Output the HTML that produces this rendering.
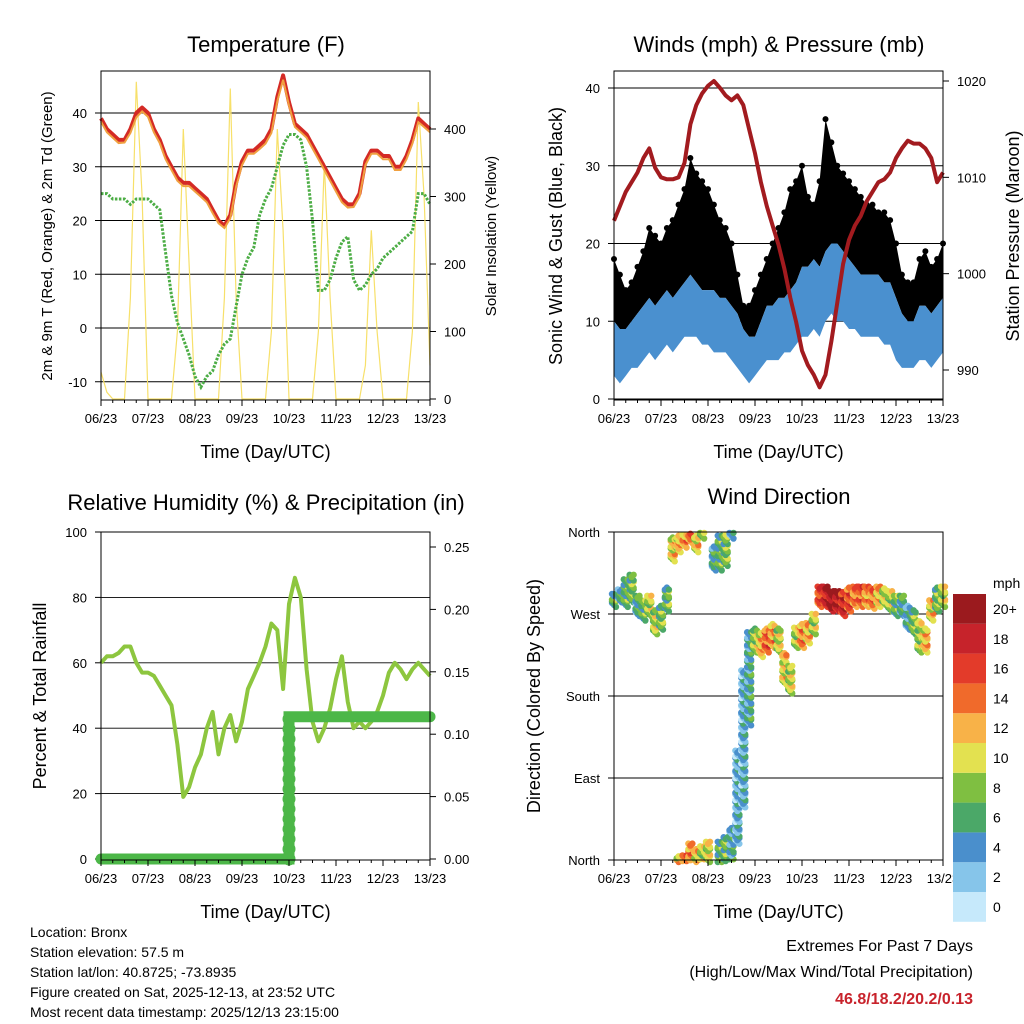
<!DOCTYPE html>
<html><head><meta charset="utf-8">
<style>
html,body{margin:0;padding:0;background:#fff;}
svg{display:block;font-family:"Liberation Sans",Arial,sans-serif;}
</style></head>
<body>
<svg id="c" width="1024" height="1024" viewBox="0 0 1024 1024"></svg>
<script>
// ---- data (3-hour resolution, 57 points from 06/23 00 to 13/23 00) ----
const dayLabels = ["06/23","07/23","08/23","09/23","10/23","11/23","12/23","13/23"];
const temp2m = [39,37,36,35,35,37,40,41,40,37,35,32,30,28,27,27,26,25,24,22,20,19,21,27,31,33,33,34,35,37,43,47,42,38,37,36,34,32,30,28,26,24,23,23,25,31,33,33,32,32,30,30,32,35,39,38,37];
const temp9m = [38.4,36.4,35.4,34.4,34.5,36.3,39.2,40.3,39.3,36.4,34.4,31.4,29.4,27.4,26.4,26.4,25.4,24.4,23.4,21.4,19.5,18.6,20.4,26.3,30.3,32.4,32.4,33.3,34.3,36.3,42.2,46.2,41.4,37.4,36.4,35.4,33.4,31.4,29.4,27.4,25.4,23.4,22.4,22.5,24.4,30.3,32.4,32.4,31.4,31.4,29.4,29.4,31.4,34.3,38.3,37.4,36.4];
const dewpoint = [25,25,24,24,24,23,24,24,24,23,22,14,6,1,-2,-5,-9,-11,-9,-8,-5,-3,-2,4,10,13,15,21,24,26,30,34,36,36,35,30,20,7,7,9,13,16,17,9,7,8,10,11,13,14,15,16,17,18,25,25,23];
const solar = [40,10,0,0,0,150,470,300,0,0,0,0,0,100,400,200,0,0,0,0,0,150,460,150,0,0,0,0,0,100,400,250,0,0,0,0,0,100,350,150,0,0,0,0,0,50,250,100,0,0,0,0,0,100,440,300,50];
const pressure = [1005.5,1007,1008.5,1009.5,1010.5,1012,1013,1011,1010,1009.8,1009.8,1010,1011.5,1015.5,1017.5,1018.7,1019.5,1020,1019.3,1018.5,1018,1018.5,1017.5,1015,1012.5,1009.5,1007,1005,1003,1000.5,997.5,995,992,990.5,989.5,988.2,989.5,993,997,1001,1003.5,1005,1006,1007.5,1008.5,1009.5,1009.8,1010.5,1012,1013,1013.8,1013.5,1013.5,1013,1012,1009.5,1010.5];
const windLo = [3,2,3,4,4,5,6,5,6,7,6,7,8,8,8,7,7,6,6,6,5,4,3,2,3,4,5,5,5,6,6,7,8,8,9,8,10,11,10,10,9,9,8,8,8,8,7,7,5,4,4,4,5,5,4,5,6];
const windHi = [10,9,9,10,11,12,13,12,13,14,13,14,15,16,15,14,14,14,13,13,12,11,9,8,8,10,12,12,13,13,14,15,17,17,18,17,19,20,20,19,18,17,16,16,16,16,15,15,13,11,10,10,12,12,11,12,13];
const gustHi = [18,16,14,15,17,19,22,21,20,22,23,25,27,31,29,28,27,25,23,22,20,16,12,12,14,16,18,20,22,24,27,28,30,26,25,28,36,33,30,29,28,27,26,25,25,24,24,23,20,16,15,15,18,19,17,18,20];
const rh = [60,62,62,63,65,65,60,57,57,56,53,50,47,35,19,22,28,32,40,45,32,40,44,36,42,52,56,60,65,72,70,52,78,86,80,58,42,36,40,46,55,62,48,40,42,40,42,45,50,57,60,58,55,58,60,58,56];
const precip = [0,0,0,0,0,0,0,0,0,0,0,0,0,0,0,0,0,0,0,0,0,0,0,0,0,0,0,0,0,0,0,0,0.114,0.114,0.114,0.114,0.114,0.114,0.114,0.114,0.114,0.114,0.114,0.114,0.114,0.114,0.114,0.114,0.114,0.114,0.114,0.114,0.114,0.114,0.114,0.114,0.114];
const dirLo = [280,285,280,285,270,265,270,250,255,275,330,340,345,350,340,355,360,320,320,325,355,20,60,150,230,225,230,235,230,195,185,235,235,240,250,280,280,275,275,270,275,280,280,280,278,280,282,275,270,270,255,250,230,230,265,275,280];
const dirHi = [295,300,310,315,290,285,290,275,280,300,355,365,368,380,375,375,380,345,380,385,395,120,210,250,255,250,255,260,255,230,215,255,260,260,270,300,300,295,295,295,300,300,300,300,298,302,300,295,290,292,280,275,265,255,285,300,300];
const dirSpeed = [6,5,6,7,5,6,8,9,7,6,10,11,12,13,10,8,9,5,6,7,4,3,3,4,8,11,14,12,9,10,9,8,13,11,8,15,17,19,18,17,15,13,14,12,13,11,9,8,6,5,4,7,8,11,10,7,8];
const rhTicks = [0,20,40,60,80,100];
const rainTicks = ["0.00","0.05","0.10","0.15","0.20","0.25"];
const speedBins = ["0","2","4","6","8","10","12","14","16","18","20+"];

const NS="http://www.w3.org/2000/svg";
const svg=document.getElementById('c');
function mk(tag,attrs,parent){const e=document.createElementNS(NS,tag);for(const k in attrs)e.setAttribute(k,attrs[k]);(parent||svg).appendChild(e);return e;}
function txt(s,x,y,size,anchor,parent,extra){const t=mk('text',Object.assign({x:x,y:y,'font-size':size,'text-anchor':anchor||'middle',fill:'#000'},extra||{}),parent);t.textContent=s;return t;}
const N=57;
function xs(L,R){return i=>L+(R-L)*i/(N-1);}
function lin(v0,y0,v1,y1){return v=>y0+(v-v0)*(y1-y0)/(v1-v0);}
function poly(pts){return pts.map(p=>p[0].toFixed(1)+','+p[1].toFixed(1)).join(' ');}

function frame(g,L,T,R,B){
  const r=mk('rect',{x:L,y:T,width:R-L,height:B-T,fill:'none',stroke:'#000','stroke-width':1},g);
  
  
}
function xAxis(g,L,R,B){
  for(let d=0;d<dayLabels.length;d++){
    const x=L+(R-L)*d/7;
    const tk=mk('line',{x1:x,y1:B,x2:x,y2:B+6,stroke:'#000'},g);
    
    
    const t=txt(dayLabels[d],x,B+23,13,'middle',g);
    
    
    if(d<7){for(let m=1;m<4;m++){const xm=x+(R-L)/28*m;const mt=mk('line',{x1:xm,y1:B,x2:xm,y2:B+3,stroke:'#000'},g);}}
  }
  const at=txt('Time (Day/UTC)',(L+R)/2,B+58,18,'middle',g);
  
  
}
function yTicks(g,vals,labels,yf,xEdge,side,grid,L,R){
  vals.forEach((v,k)=>{
    const y=yf(v);
    if(grid){const gl=mk('line',{x1:L,y1:y,x2:R,y2:y,stroke:'#000','stroke-width':0.9},g);}
    const dx=side<0?-6:6;
    const tk=mk('line',{x1:xEdge,y1:y,x2:xEdge+dx,y2:y,stroke:'#000'},g);
    
    
    const t=txt(labels[k],xEdge+(side<0?-14:14),y+5,13,side<0?'end':'start',g);
    
    
  });
}
function rotTitle(g,s,x,y,size,name){
  const t=txt(s,x,y,size,'middle',g,{transform:'rotate(-90 '+x+' '+y+')'});
  
  
}
function title(g,s,x,y){const t=txt(s,x,y,22,'middle',g);}

// ===== Panel 1: Temperature =====
(function(){
  const g=mk('g',{});
  
  
  const L=101,R=430,T=71,B=400;
  const X=xs(L,R), Y=lin(0,328,40,113), YS=lin(0,399,400,129);
  title(g,'Temperature (F)',266,52);
  yTicks(g,[-10,0,10,20,30,40],['-10','0','10','20','30','40'],Y,L,-1,true,L,R);
  yTicks(g,[0,100,200,300,400],['0','100','200','300','400'],YS,R,1,false);
  const sp=mk('polyline',{points:poly(solar.map((v,i)=>[X(i),YS(v)])),fill:'none',stroke:'#f7e06a','stroke-width':1.2},g);
  
  
  const r=mk('polyline',{points:poly(temp2m.map((v,i)=>[X(i),Y(v)])),fill:'none',stroke:'#d42a25','stroke-width':4,'stroke-linejoin':'round'},g);
  
  
  const o=mk('polyline',{points:poly(temp9m.map((v,i)=>[X(i),Y(v)])),fill:'none',stroke:'#f0a040','stroke-width':2},g);
  
  
  const gp=mk('polyline',{points:poly(dewpoint.map((v,i)=>[X(i),Y(v)])),fill:'none',stroke:'#4cad45','stroke-width':3,'stroke-dasharray':'2.5 1.5'},g);
  
  
  frame(g,L,T,R,B);
  xAxis(g,L,R,B);
  rotTitle(g,'2m & 9m T (Red, Orange) & 2m Td (Green)',52,236,15,'left-axis-title');
  rotTitle(g,'Solar Insolation (Yellow)',496,236,15,'right-axis-title');
})();

// ===== Panel 2: Winds & Pressure =====
(function(){
  const g=mk('g',{});
  
  
  const L=614,R=943,T=71,B=400;
  const X=xs(L,R), Y=lin(0,399,40,88), YP=lin(990,370,1020,81);
  title(g,'Winds (mph) & Pressure (mb)',779,52);
  yTicks(g,[0,10,20,30,40],['0','10','20','30','40'],Y,L,-1,true,L,R);
  yTicks(g,[990,1000,1010,1020],['990','1000','1010','1020'],YP,R,1,false);
  const top=[],bot=[];
  for(let i=0;i<N;i++){top.push([X(i),Y(gustHi[i])]);bot.push([X(i),Y(windHi[i])]);}
  const gf=mk('polygon',{points:poly(top.concat(bot.reverse())),fill:'#000'},g);
  
  
  gustHi.forEach((v,i)=>{const c=mk('circle',{cx:X(i),cy:Y(v),r:3,fill:'#000'},g);});
  const wt=[],wb=[];
  for(let i=0;i<N;i++){wt.push([X(i),Y(windHi[i])]);wb.push([X(i),Y(windLo[i])]);}
  const wf=mk('polygon',{points:poly(wt.concat(wb.reverse())),fill:'#4a90cf'},g);
  
  
  const pl=mk('polyline',{points:poly(pressure.map((v,i)=>[X(i),YP(v)])),fill:'none',stroke:'#a21b1f','stroke-width':4,'stroke-linejoin':'round'},g);
  
  
  frame(g,L,T,R,B);
  xAxis(g,L,R,B);
  rotTitle(g,'Sonic Wind & Gust (Blue, Black)',562,236,18,'left-axis-title');
  rotTitle(g,'Station Pressure (Maroon)',1019,236,18,'right-axis-title');
})();

// ===== Panel 3: RH & Precip =====
(function(){
  const g=mk('g',{});
  
  
  const L=101,R=430,T=532,B=860;
  const X=xs(L,R), Y=lin(0,859,100,532), YR=lin(0,859,0.05,796.6);
  title(g,'Relative Humidity (%) & Precipitation (in)',266,510);
  yTicks(g,rhTicks,rhTicks.map(String),Y,L,-1,false);
  [20,40,60,80].forEach(v=>{const gl=mk('line',{x1:L,y1:Y(v),x2:R,y2:Y(v),stroke:'#000','stroke-width':0.9},g);});
  yTicks(g,[0,0.05,0.10,0.15,0.20,0.25],rainTicks,YR,R,1,false);
  const rl=mk('polyline',{points:poly(rh.map((v,i)=>[X(i),Y(v)])),fill:'none',stroke:'#8dc63f','stroke-width':4,'stroke-linejoin':'round'},g);
  
  
  const pts=[];
  for(let i=0;i<N;i++){if(i>0&&precip[i]!==precip[i-1])pts.push([X(i),YR(precip[i-1])]);pts.push([X(i),YR(precip[i])]);}
  const pp=mk('polyline',{points:poly(pts),fill:'none',stroke:'#4cb748','stroke-width':11,'stroke-linecap':'round'},g);
  
  
  for(let i=1;i<N;i++){if(precip[i]!==precip[i-1]){const y0=YR(precip[i-1]),y1=YR(precip[i]);for(let y=y0;y>=y1;y-=10){const c=mk('circle',{cx:X(i),cy:y,r:6.5,fill:'#4cb748'},g);}}}
  frame(g,L,T,R,B);
  xAxis(g,L,R,B);
  rotTitle(g,'Percent & Total Rainfall',46,696,18,'left-axis-title');
})();

// ===== Panel 4: Wind Direction =====
(function(){
  const g=mk('g',{});
  
  
  const L=614,R=943,T=532,B=860;
  const X=xs(L,R), Y=lin(0,860,360,532);
  const cols=['#c6e9fb','#86c5ea','#4a8fcc','#4ba868','#7fbf41','#e3e150','#f8b248','#f06a2b','#e33b2a','#c6232b','#9b1a1e'];
  title(g,'Wind Direction',779,504);
  yTicks(g,[0,90,180,270,360],['North','East','South','West','North'],Y,L,-1,false);
  [90,180,270].forEach(v=>{const gl=mk('line',{x1:L,y1:Y(v),x2:R,y2:Y(v),stroke:'#000','stroke-width':0.9},g);});
  function col(s){return cols[Math.min(10,Math.max(0,Math.round(s/2)))];}
  for(let i=0;i<N;i++){
    let k=0;
    for(let d=dirLo[i];d<=dirHi[i];d+=4,k++){
      const dd=d%360; const s=dirSpeed[i]+((k%3)-1)*2;
      for(let j=-1;j<=1;j++){
        const c=mk('circle',{cx:X(i)+j*2,cy:Y(dd)+((j+k)%2)*2,r:3.2,fill:col(s+j)},g);
        
        
      }
    }
  }
  frame(g,L,T,R,B);
  xAxis(g,L,R,B);
  rotTitle(g,'Direction (Colored By Speed)',540,696,18,'left-axis-title');
  // colorbar
  const cb=mk('g',{},g);
  
  
  const t=txt('mph',993,588,14,'start',cb);
  
  
  for(let k=0;k<speedBins.length;k++){
    const y=594+(10-k)*29.8;
    const r=mk('rect',{x:953,y:y,width:33,height:29.8,fill:cols[k]},cb);
    
    
    const l=txt(speedBins[k],993,y+20,14,'start',cb);
    
    
  }
})();

// ===== Footer text =====
(function(){
  const lines=['Location: Bronx','Station elevation: 57.5 m','Station lat/lon: 40.8725; -73.8935','Figure created on Sat, 2025-12-13, at 23:52 UTC','Most recent data timestamp: 2025/12/13 23:15:00'];
  lines.forEach((s,k)=>{const t=txt(s,30,937+k*20,14,'start');});
  const a=txt('Extremes For Past 7 Days',973,951,16,'end');
  
  
  const b=txt('(High/Low/Max Wind/Total Precipitation)',973,977,16,'end');
  
  
  const c=txt('46.8/18.2/20.2/0.13',973,1004,16,'end',null,{fill:'#c8232c','font-weight':'bold'});
  
  
})();
</script>
</body></html>
